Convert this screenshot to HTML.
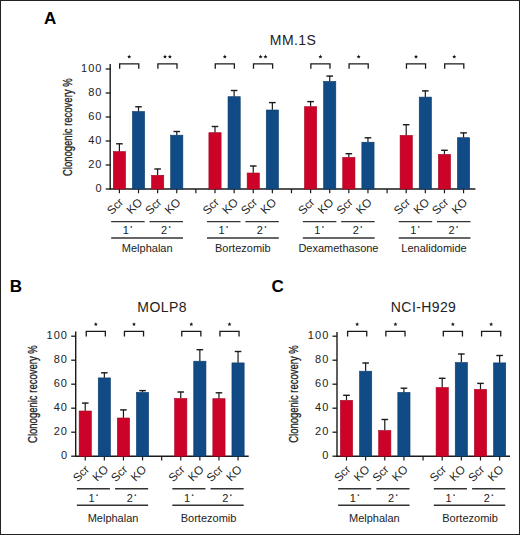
<!DOCTYPE html>
<html><head><meta charset="utf-8"><style>
html,body{margin:0;padding:0;background:#fff;}
.wrap{position:relative;width:520px;height:535px;overflow:hidden;box-sizing:border-box;border:1px solid #222;}
svg{position:absolute;left:-1px;top:-1px;}
text{font-family:"Liberation Sans",sans-serif;fill:#222;}
.t{font-size:11px;}
.st{font-size:10px;}
.deg{font-size:6px;}
.title{font-size:14px;letter-spacing:0.4px;}
.yl{font-size:12.5px;stroke:#222;stroke-width:0.3px;}
.tk{font-size:11px;letter-spacing:1.1px;}
.rl{font-size:11.6px;}
.pl{font-size:17px;font-weight:bold;fill:#000;}
</style></head><body><div class="wrap">
<svg width="520" height="535" viewBox="0 0 520 535">
<text class="pl" x="44" y="24">A</text>
<text class="pl" x="9.8" y="291.8">B</text>
<text class="pl" x="271.5" y="292">C</text>
<line x1="110.2" y1="64" x2="110.2" y2="189.6" stroke="#1a1a1a" stroke-width="1.4"/>
<line x1="105.7" y1="189.0" x2="110.2" y2="189.0" stroke="#1a1a1a" stroke-width="1.3"/>
<text x="102.60" y="192.10" text-anchor="end" class="tk">0</text>
<line x1="105.7" y1="165.0" x2="110.2" y2="165.0" stroke="#1a1a1a" stroke-width="1.3"/>
<text x="102.60" y="168.10" text-anchor="end" class="tk">20</text>
<line x1="105.7" y1="141.0" x2="110.2" y2="141.0" stroke="#1a1a1a" stroke-width="1.3"/>
<text x="102.60" y="144.10" text-anchor="end" class="tk">40</text>
<line x1="105.7" y1="117.0" x2="110.2" y2="117.0" stroke="#1a1a1a" stroke-width="1.3"/>
<text x="102.60" y="120.10" text-anchor="end" class="tk">60</text>
<line x1="105.7" y1="93.0" x2="110.2" y2="93.0" stroke="#1a1a1a" stroke-width="1.3"/>
<text x="102.60" y="96.10" text-anchor="end" class="tk">80</text>
<line x1="105.7" y1="69.0" x2="110.2" y2="69.0" stroke="#1a1a1a" stroke-width="1.3"/>
<text x="102.60" y="72.10" text-anchor="end" class="tk">100</text>
<line x1="109.5" y1="189" x2="475.4" y2="189" stroke="#1a1a1a" stroke-width="1.4"/>
<line x1="119.4" y1="189" x2="119.4" y2="193.3" stroke="#1a1a1a" stroke-width="1.2"/>
<line x1="138.52" y1="189" x2="138.52" y2="193.3" stroke="#1a1a1a" stroke-width="1.2"/>
<line x1="157.64000000000001" y1="189" x2="157.64000000000001" y2="193.3" stroke="#1a1a1a" stroke-width="1.2"/>
<line x1="176.76" y1="189" x2="176.76" y2="193.3" stroke="#1a1a1a" stroke-width="1.2"/>
<line x1="195.88" y1="189" x2="195.88" y2="193.3" stroke="#1a1a1a" stroke-width="1.2"/>
<line x1="215.0" y1="189" x2="215.0" y2="193.3" stroke="#1a1a1a" stroke-width="1.2"/>
<line x1="234.12" y1="189" x2="234.12" y2="193.3" stroke="#1a1a1a" stroke-width="1.2"/>
<line x1="253.24" y1="189" x2="253.24" y2="193.3" stroke="#1a1a1a" stroke-width="1.2"/>
<line x1="272.36" y1="189" x2="272.36" y2="193.3" stroke="#1a1a1a" stroke-width="1.2"/>
<line x1="291.48" y1="189" x2="291.48" y2="193.3" stroke="#1a1a1a" stroke-width="1.2"/>
<line x1="310.6" y1="189" x2="310.6" y2="193.3" stroke="#1a1a1a" stroke-width="1.2"/>
<line x1="329.72" y1="189" x2="329.72" y2="193.3" stroke="#1a1a1a" stroke-width="1.2"/>
<line x1="348.84000000000003" y1="189" x2="348.84000000000003" y2="193.3" stroke="#1a1a1a" stroke-width="1.2"/>
<line x1="367.96000000000004" y1="189" x2="367.96000000000004" y2="193.3" stroke="#1a1a1a" stroke-width="1.2"/>
<line x1="387.08000000000004" y1="189" x2="387.08000000000004" y2="193.3" stroke="#1a1a1a" stroke-width="1.2"/>
<line x1="406.20000000000005" y1="189" x2="406.20000000000005" y2="193.3" stroke="#1a1a1a" stroke-width="1.2"/>
<line x1="425.32000000000005" y1="189" x2="425.32000000000005" y2="193.3" stroke="#1a1a1a" stroke-width="1.2"/>
<line x1="444.44000000000005" y1="189" x2="444.44000000000005" y2="193.3" stroke="#1a1a1a" stroke-width="1.2"/>
<line x1="463.56000000000006" y1="189" x2="463.56000000000006" y2="193.3" stroke="#1a1a1a" stroke-width="1.2"/>
<rect x="113.30" y="151.6" width="12.2" height="37.40" fill="#cd0228" stroke="#a8001e" stroke-width="0.6"/>
<line x1="119.40" y1="151.4" x2="119.40" y2="143.5" stroke="#1a1a1a" stroke-width="1.2"/>
<line x1="116.10" y1="143.8" x2="122.70" y2="143.8" stroke="#1a1a1a" stroke-width="1.4"/>
<rect x="132.42" y="111.5" width="12.2" height="77.50" fill="#104b86" stroke="#0b3b6c" stroke-width="0.6"/>
<line x1="138.52" y1="111.3" x2="138.52" y2="106.5" stroke="#1a1a1a" stroke-width="1.2"/>
<line x1="135.22" y1="106.8" x2="141.82" y2="106.8" stroke="#1a1a1a" stroke-width="1.4"/>
<rect x="151.54" y="175.29999999999998" width="12.2" height="13.70" fill="#cd0228" stroke="#a8001e" stroke-width="0.6"/>
<line x1="157.64" y1="175.1" x2="157.64" y2="168.7" stroke="#1a1a1a" stroke-width="1.2"/>
<line x1="154.34" y1="169.0" x2="160.94" y2="169.0" stroke="#1a1a1a" stroke-width="1.4"/>
<rect x="170.66" y="135.2" width="12.2" height="53.80" fill="#104b86" stroke="#0b3b6c" stroke-width="0.6"/>
<line x1="176.76" y1="135" x2="176.76" y2="131.2" stroke="#1a1a1a" stroke-width="1.2"/>
<line x1="173.46" y1="131.5" x2="180.06" y2="131.5" stroke="#1a1a1a" stroke-width="1.4"/>
<rect x="208.90" y="132.7" width="12.2" height="56.30" fill="#cd0228" stroke="#a8001e" stroke-width="0.6"/>
<line x1="215.00" y1="132.5" x2="215.00" y2="126.2" stroke="#1a1a1a" stroke-width="1.2"/>
<line x1="211.70" y1="126.5" x2="218.30" y2="126.5" stroke="#1a1a1a" stroke-width="1.4"/>
<rect x="228.02" y="96.7" width="12.2" height="92.30" fill="#104b86" stroke="#0b3b6c" stroke-width="0.6"/>
<line x1="234.12" y1="96.5" x2="234.12" y2="90.2" stroke="#1a1a1a" stroke-width="1.2"/>
<line x1="230.82" y1="90.5" x2="237.42" y2="90.5" stroke="#1a1a1a" stroke-width="1.4"/>
<rect x="247.14" y="173.0" width="12.2" height="16.00" fill="#cd0228" stroke="#a8001e" stroke-width="0.6"/>
<line x1="253.24" y1="172.8" x2="253.24" y2="165.7" stroke="#1a1a1a" stroke-width="1.2"/>
<line x1="249.94" y1="166.0" x2="256.54" y2="166.0" stroke="#1a1a1a" stroke-width="1.4"/>
<rect x="266.26" y="110.0" width="12.2" height="79.00" fill="#104b86" stroke="#0b3b6c" stroke-width="0.6"/>
<line x1="272.36" y1="109.8" x2="272.36" y2="102.3" stroke="#1a1a1a" stroke-width="1.2"/>
<line x1="269.06" y1="102.6" x2="275.66" y2="102.6" stroke="#1a1a1a" stroke-width="1.4"/>
<rect x="304.50" y="106.7" width="12.2" height="82.30" fill="#cd0228" stroke="#a8001e" stroke-width="0.6"/>
<line x1="310.60" y1="106.5" x2="310.60" y2="101.3" stroke="#1a1a1a" stroke-width="1.2"/>
<line x1="307.30" y1="101.6" x2="313.90" y2="101.6" stroke="#1a1a1a" stroke-width="1.4"/>
<rect x="323.62" y="81.4" width="12.2" height="107.60" fill="#104b86" stroke="#0b3b6c" stroke-width="0.6"/>
<line x1="329.72" y1="81.2" x2="329.72" y2="75.8" stroke="#1a1a1a" stroke-width="1.2"/>
<line x1="326.42" y1="76.1" x2="333.02" y2="76.1" stroke="#1a1a1a" stroke-width="1.4"/>
<rect x="342.74" y="157.39999999999998" width="12.2" height="31.60" fill="#cd0228" stroke="#a8001e" stroke-width="0.6"/>
<line x1="348.84" y1="157.2" x2="348.84" y2="153.4" stroke="#1a1a1a" stroke-width="1.2"/>
<line x1="345.54" y1="153.70000000000002" x2="352.14" y2="153.70000000000002" stroke="#1a1a1a" stroke-width="1.4"/>
<rect x="361.86" y="142.2" width="12.2" height="46.80" fill="#104b86" stroke="#0b3b6c" stroke-width="0.6"/>
<line x1="367.96" y1="142" x2="367.96" y2="137.5" stroke="#1a1a1a" stroke-width="1.2"/>
<line x1="364.66" y1="137.8" x2="371.26" y2="137.8" stroke="#1a1a1a" stroke-width="1.4"/>
<rect x="400.10" y="135.39999999999998" width="12.2" height="53.60" fill="#cd0228" stroke="#a8001e" stroke-width="0.6"/>
<line x1="406.20" y1="135.2" x2="406.20" y2="124.4" stroke="#1a1a1a" stroke-width="1.2"/>
<line x1="402.90" y1="124.7" x2="409.50" y2="124.7" stroke="#1a1a1a" stroke-width="1.4"/>
<rect x="419.22" y="97.10000000000001" width="12.2" height="91.90" fill="#104b86" stroke="#0b3b6c" stroke-width="0.6"/>
<line x1="425.32" y1="96.9" x2="425.32" y2="90.6" stroke="#1a1a1a" stroke-width="1.2"/>
<line x1="422.02" y1="90.89999999999999" x2="428.62" y2="90.89999999999999" stroke="#1a1a1a" stroke-width="1.4"/>
<rect x="438.34" y="154.39999999999998" width="12.2" height="34.60" fill="#cd0228" stroke="#a8001e" stroke-width="0.6"/>
<line x1="444.44" y1="154.2" x2="444.44" y2="150" stroke="#1a1a1a" stroke-width="1.2"/>
<line x1="441.14" y1="150.3" x2="447.74" y2="150.3" stroke="#1a1a1a" stroke-width="1.4"/>
<rect x="457.46" y="137.7" width="12.2" height="51.30" fill="#104b86" stroke="#0b3b6c" stroke-width="0.6"/>
<line x1="463.56" y1="137.5" x2="463.56" y2="132.6" stroke="#1a1a1a" stroke-width="1.2"/>
<line x1="460.26" y1="132.9" x2="466.86" y2="132.9" stroke="#1a1a1a" stroke-width="1.4"/>
<path d="M119.65 68.8 V63.8 H138.77 V68.8" fill="none" stroke="#1a1a1a" stroke-width="1.3"/>
<polygon points="129.21,54.60 129.80,55.89 131.21,56.05 130.16,57.01 130.44,58.40 129.21,57.70 127.98,58.40 128.26,57.01 127.21,56.05 128.62,55.89" fill="#1a1a1a"/>
<path d="M157.89 68.8 V63.8 H177.01 V68.8" fill="none" stroke="#1a1a1a" stroke-width="1.3"/>
<polygon points="165.00,54.60 165.59,55.89 167.00,56.05 165.95,57.01 166.23,58.40 165.00,57.70 163.77,58.40 164.05,57.01 163.00,56.05 164.41,55.89" fill="#1a1a1a"/>
<polygon points="169.90,54.60 170.49,55.89 171.90,56.05 170.85,57.01 171.13,58.40 169.90,57.70 168.67,58.40 168.95,57.01 167.90,56.05 169.31,55.89" fill="#1a1a1a"/>
<path d="M215.25 68.8 V63.8 H234.37 V68.8" fill="none" stroke="#1a1a1a" stroke-width="1.3"/>
<polygon points="224.81,54.60 225.40,55.89 226.81,56.05 225.76,57.01 226.04,58.40 224.81,57.70 223.58,58.40 223.86,57.01 222.81,56.05 224.22,55.89" fill="#1a1a1a"/>
<path d="M253.49 68.8 V63.8 H272.61 V68.8" fill="none" stroke="#1a1a1a" stroke-width="1.3"/>
<polygon points="260.60,54.60 261.19,55.89 262.60,56.05 261.55,57.01 261.83,58.40 260.60,57.70 259.37,58.40 259.65,57.01 258.60,56.05 260.01,55.89" fill="#1a1a1a"/>
<polygon points="265.50,54.60 266.09,55.89 267.50,56.05 266.45,57.01 266.73,58.40 265.50,57.70 264.27,58.40 264.55,57.01 263.50,56.05 264.91,55.89" fill="#1a1a1a"/>
<path d="M310.85 68.8 V63.8 H329.97 V68.8" fill="none" stroke="#1a1a1a" stroke-width="1.3"/>
<polygon points="320.41,54.60 321.00,55.89 322.41,56.05 321.36,57.01 321.64,58.40 320.41,57.70 319.18,58.40 319.46,57.01 318.41,56.05 319.82,55.89" fill="#1a1a1a"/>
<path d="M349.09 68.8 V63.8 H368.21 V68.8" fill="none" stroke="#1a1a1a" stroke-width="1.3"/>
<polygon points="358.65,54.60 359.24,55.89 360.65,56.05 359.60,57.01 359.88,58.40 358.65,57.70 357.42,58.40 357.70,57.01 356.65,56.05 358.06,55.89" fill="#1a1a1a"/>
<path d="M406.45 68.8 V63.8 H425.57 V68.8" fill="none" stroke="#1a1a1a" stroke-width="1.3"/>
<polygon points="416.01,54.60 416.60,55.89 418.01,56.05 416.96,57.01 417.24,58.40 416.01,57.70 414.78,58.40 415.06,57.01 414.01,56.05 415.42,55.89" fill="#1a1a1a"/>
<path d="M444.69 68.8 V63.8 H463.81 V68.8" fill="none" stroke="#1a1a1a" stroke-width="1.3"/>
<polygon points="454.25,54.60 454.84,55.89 456.25,56.05 455.20,57.01 455.48,58.40 454.25,57.70 453.02,58.40 453.30,57.01 452.25,56.05 453.66,55.89" fill="#1a1a1a"/>
<text class="rl" text-anchor="end" transform="translate(124.10,203.0) rotate(-45)">Scr</text>
<text class="rl" text-anchor="end" transform="translate(143.22,203.0) rotate(-45)">KO</text>
<line x1="111.20" y1="221.6" x2="144.66" y2="221.6" stroke="#333" stroke-width="1.4"/>
<text class="t" text-anchor="middle" x="125.71" y="234">1</text>
<circle cx="131.31" cy="227" r="0.9" fill="#555"/>
<text class="rl" text-anchor="end" transform="translate(162.34,203.0) rotate(-45)">Scr</text>
<text class="rl" text-anchor="end" transform="translate(181.46,203.0) rotate(-45)">KO</text>
<line x1="149.53" y1="221.6" x2="183.00" y2="221.6" stroke="#333" stroke-width="1.4"/>
<text class="t" text-anchor="middle" x="164.04" y="234">2</text>
<circle cx="169.64" cy="227" r="0.9" fill="#555"/>
<line x1="111.20" y1="238" x2="183.00" y2="238" stroke="#333" stroke-width="1.4"/>
<text class="t" text-anchor="middle" x="147.23" y="252.0">Melphalan</text>
<text class="rl" text-anchor="end" transform="translate(219.70,203.0) rotate(-45)">Scr</text>
<text class="rl" text-anchor="end" transform="translate(238.82,203.0) rotate(-45)">KO</text>
<line x1="207.03" y1="221.6" x2="240.49" y2="221.6" stroke="#333" stroke-width="1.4"/>
<text class="t" text-anchor="middle" x="221.53" y="234">1</text>
<circle cx="227.13" cy="227" r="0.9" fill="#555"/>
<text class="rl" text-anchor="end" transform="translate(257.94,203.0) rotate(-45)">Scr</text>
<text class="rl" text-anchor="end" transform="translate(277.06,203.0) rotate(-45)">KO</text>
<line x1="245.36" y1="221.6" x2="278.82" y2="221.6" stroke="#333" stroke-width="1.4"/>
<text class="t" text-anchor="middle" x="259.87" y="234">2</text>
<circle cx="265.47" cy="227" r="0.9" fill="#555"/>
<line x1="207.03" y1="238" x2="278.82" y2="238" stroke="#333" stroke-width="1.4"/>
<text class="t" text-anchor="middle" x="242.83" y="252.0">Bortezomib</text>
<text class="rl" text-anchor="end" transform="translate(315.30,203.0) rotate(-45)">Scr</text>
<text class="rl" text-anchor="end" transform="translate(334.42,203.0) rotate(-45)">KO</text>
<line x1="302.85" y1="221.6" x2="336.32" y2="221.6" stroke="#333" stroke-width="1.4"/>
<text class="t" text-anchor="middle" x="317.36" y="234">1</text>
<circle cx="322.96" cy="227" r="0.9" fill="#555"/>
<text class="rl" text-anchor="end" transform="translate(353.54,203.0) rotate(-45)">Scr</text>
<text class="rl" text-anchor="end" transform="translate(372.66,203.0) rotate(-45)">KO</text>
<line x1="341.18" y1="221.6" x2="374.64" y2="221.6" stroke="#333" stroke-width="1.4"/>
<text class="t" text-anchor="middle" x="355.69" y="234">2</text>
<circle cx="361.29" cy="227" r="0.9" fill="#555"/>
<line x1="302.85" y1="238" x2="374.64" y2="238" stroke="#333" stroke-width="1.4"/>
<text class="t" text-anchor="middle" x="338.43" y="252.0">Dexamethasone</text>
<text class="rl" text-anchor="end" transform="translate(410.90,203.0) rotate(-45)">Scr</text>
<text class="rl" text-anchor="end" transform="translate(430.02,203.0) rotate(-45)">KO</text>
<line x1="398.68" y1="221.6" x2="432.14" y2="221.6" stroke="#333" stroke-width="1.4"/>
<text class="t" text-anchor="middle" x="413.19" y="234">1</text>
<circle cx="418.79" cy="227" r="0.9" fill="#555"/>
<text class="rl" text-anchor="end" transform="translate(449.14,203.0) rotate(-45)">Scr</text>
<text class="rl" text-anchor="end" transform="translate(468.26,203.0) rotate(-45)">KO</text>
<line x1="437.01" y1="221.6" x2="470.47" y2="221.6" stroke="#333" stroke-width="1.4"/>
<text class="t" text-anchor="middle" x="451.52" y="234">2</text>
<circle cx="457.12" cy="227" r="0.9" fill="#555"/>
<line x1="398.68" y1="238" x2="470.47" y2="238" stroke="#333" stroke-width="1.4"/>
<text class="t" text-anchor="middle" x="434.03" y="252.0">Lenalidomide</text>
<text class="title" text-anchor="middle" x="293.0" y="45.2">MM.1S</text>
<text class="yl" text-anchor="middle" transform="translate(71.7,127.2) rotate(-90) scale(0.76,1)">Clonogenic recovery %</text>
<line x1="75.7" y1="331.5" x2="75.7" y2="456.8" stroke="#1a1a1a" stroke-width="1.4"/>
<line x1="71.2" y1="456.2" x2="75.7" y2="456.2" stroke="#1a1a1a" stroke-width="1.3"/>
<text x="68.10" y="459.30" text-anchor="end" class="tk">0</text>
<line x1="71.2" y1="432.2" x2="75.7" y2="432.2" stroke="#1a1a1a" stroke-width="1.3"/>
<text x="68.10" y="435.30" text-anchor="end" class="tk">20</text>
<line x1="71.2" y1="408.2" x2="75.7" y2="408.2" stroke="#1a1a1a" stroke-width="1.3"/>
<text x="68.10" y="411.30" text-anchor="end" class="tk">40</text>
<line x1="71.2" y1="384.2" x2="75.7" y2="384.2" stroke="#1a1a1a" stroke-width="1.3"/>
<text x="68.10" y="387.30" text-anchor="end" class="tk">60</text>
<line x1="71.2" y1="360.2" x2="75.7" y2="360.2" stroke="#1a1a1a" stroke-width="1.3"/>
<text x="68.10" y="363.30" text-anchor="end" class="tk">80</text>
<line x1="71.2" y1="336.2" x2="75.7" y2="336.2" stroke="#1a1a1a" stroke-width="1.3"/>
<text x="68.10" y="339.30" text-anchor="end" class="tk">100</text>
<line x1="75.0" y1="456.2" x2="248.7" y2="456.2" stroke="#1a1a1a" stroke-width="1.4"/>
<line x1="85.25" y1="456.2" x2="85.25" y2="460.5" stroke="#1a1a1a" stroke-width="1.2"/>
<line x1="104.35" y1="456.2" x2="104.35" y2="460.5" stroke="#1a1a1a" stroke-width="1.2"/>
<line x1="123.45" y1="456.2" x2="123.45" y2="460.5" stroke="#1a1a1a" stroke-width="1.2"/>
<line x1="142.55" y1="456.2" x2="142.55" y2="460.5" stroke="#1a1a1a" stroke-width="1.2"/>
<line x1="161.65" y1="456.2" x2="161.65" y2="460.5" stroke="#1a1a1a" stroke-width="1.2"/>
<line x1="180.75" y1="456.2" x2="180.75" y2="460.5" stroke="#1a1a1a" stroke-width="1.2"/>
<line x1="199.85000000000002" y1="456.2" x2="199.85000000000002" y2="460.5" stroke="#1a1a1a" stroke-width="1.2"/>
<line x1="218.95000000000002" y1="456.2" x2="218.95000000000002" y2="460.5" stroke="#1a1a1a" stroke-width="1.2"/>
<line x1="238.05" y1="456.2" x2="238.05" y2="460.5" stroke="#1a1a1a" stroke-width="1.2"/>
<rect x="79.15" y="411.0" width="12.2" height="45.20" fill="#cd0228" stroke="#a8001e" stroke-width="0.6"/>
<line x1="85.25" y1="410.8" x2="85.25" y2="402.8" stroke="#1a1a1a" stroke-width="1.2"/>
<line x1="81.95" y1="403.1" x2="88.55" y2="403.1" stroke="#1a1a1a" stroke-width="1.4"/>
<rect x="98.25" y="377.9" width="12.2" height="78.30" fill="#104b86" stroke="#0b3b6c" stroke-width="0.6"/>
<line x1="104.35" y1="377.7" x2="104.35" y2="372.5" stroke="#1a1a1a" stroke-width="1.2"/>
<line x1="101.05" y1="372.8" x2="107.65" y2="372.8" stroke="#1a1a1a" stroke-width="1.4"/>
<rect x="117.35" y="418.0" width="12.2" height="38.20" fill="#cd0228" stroke="#a8001e" stroke-width="0.6"/>
<line x1="123.45" y1="417.8" x2="123.45" y2="409.6" stroke="#1a1a1a" stroke-width="1.2"/>
<line x1="120.15" y1="409.90000000000003" x2="126.75" y2="409.90000000000003" stroke="#1a1a1a" stroke-width="1.4"/>
<rect x="136.45" y="392.4" width="12.2" height="63.80" fill="#104b86" stroke="#0b3b6c" stroke-width="0.6"/>
<line x1="142.55" y1="392.2" x2="142.55" y2="390.3" stroke="#1a1a1a" stroke-width="1.2"/>
<line x1="139.25" y1="390.6" x2="145.85" y2="390.6" stroke="#1a1a1a" stroke-width="1.4"/>
<rect x="174.65" y="398.5" width="12.2" height="57.70" fill="#cd0228" stroke="#a8001e" stroke-width="0.6"/>
<line x1="180.75" y1="398.3" x2="180.75" y2="391.7" stroke="#1a1a1a" stroke-width="1.2"/>
<line x1="177.45" y1="392.0" x2="184.05" y2="392.0" stroke="#1a1a1a" stroke-width="1.4"/>
<rect x="193.75" y="361.2" width="12.2" height="95.00" fill="#104b86" stroke="#0b3b6c" stroke-width="0.6"/>
<line x1="199.85" y1="361" x2="199.85" y2="349.4" stroke="#1a1a1a" stroke-width="1.2"/>
<line x1="196.55" y1="349.7" x2="203.15" y2="349.7" stroke="#1a1a1a" stroke-width="1.4"/>
<rect x="212.85" y="398.7" width="12.2" height="57.50" fill="#cd0228" stroke="#a8001e" stroke-width="0.6"/>
<line x1="218.95" y1="398.5" x2="218.95" y2="392.5" stroke="#1a1a1a" stroke-width="1.2"/>
<line x1="215.65" y1="392.8" x2="222.25" y2="392.8" stroke="#1a1a1a" stroke-width="1.4"/>
<rect x="231.95" y="362.9" width="12.2" height="93.30" fill="#104b86" stroke="#0b3b6c" stroke-width="0.6"/>
<line x1="238.05" y1="362.7" x2="238.05" y2="351.2" stroke="#1a1a1a" stroke-width="1.2"/>
<line x1="234.75" y1="351.5" x2="241.35" y2="351.5" stroke="#1a1a1a" stroke-width="1.4"/>
<path d="M86.25 336.4 V331.4 H105.35 V336.4" fill="none" stroke="#1a1a1a" stroke-width="1.3"/>
<polygon points="95.80,322.20 96.39,323.49 97.80,323.65 96.75,324.61 97.03,326.00 95.80,325.30 94.57,326.00 94.85,324.61 93.80,323.65 95.21,323.49" fill="#1a1a1a"/>
<path d="M124.45 336.4 V331.4 H143.55 V336.4" fill="none" stroke="#1a1a1a" stroke-width="1.3"/>
<polygon points="134.00,322.20 134.59,323.49 136.00,323.65 134.95,324.61 135.23,326.00 134.00,325.30 132.77,326.00 133.05,324.61 132.00,323.65 133.41,323.49" fill="#1a1a1a"/>
<path d="M181.75 336.4 V331.4 H200.85 V336.4" fill="none" stroke="#1a1a1a" stroke-width="1.3"/>
<polygon points="191.30,322.20 191.89,323.49 193.30,323.65 192.25,324.61 192.53,326.00 191.30,325.30 190.07,326.00 190.35,324.61 189.30,323.65 190.71,323.49" fill="#1a1a1a"/>
<path d="M219.95 336.4 V331.4 H239.05 V336.4" fill="none" stroke="#1a1a1a" stroke-width="1.3"/>
<polygon points="229.50,322.20 230.09,323.49 231.50,323.65 230.45,324.61 230.73,326.00 229.50,325.30 228.27,326.00 228.55,324.61 227.50,323.65 228.91,323.49" fill="#1a1a1a"/>
<text class="rl" text-anchor="end" transform="translate(89.95,470.2) rotate(-45)">Scr</text>
<text class="rl" text-anchor="end" transform="translate(109.05,470.2) rotate(-45)">KO</text>
<line x1="76.85" y1="488.8" x2="109.95" y2="488.8" stroke="#333" stroke-width="1.4"/>
<text class="t" text-anchor="middle" x="91.55" y="502.2">1</text>
<circle cx="97.15" cy="495.2" r="0.9" fill="#555"/>
<text class="rl" text-anchor="end" transform="translate(128.15,470.2) rotate(-45)">Scr</text>
<text class="rl" text-anchor="end" transform="translate(147.25,470.2) rotate(-45)">KO</text>
<line x1="115.05" y1="488.8" x2="148.15" y2="488.8" stroke="#333" stroke-width="1.4"/>
<text class="t" text-anchor="middle" x="129.75" y="502.2">2</text>
<circle cx="135.35" cy="495.2" r="0.9" fill="#555"/>
<line x1="76.85" y1="505.2" x2="148.15" y2="505.2" stroke="#333" stroke-width="1.4"/>
<text class="t" text-anchor="middle" x="113.05" y="522.1">Melphalan</text>
<text class="rl" text-anchor="end" transform="translate(185.45,470.2) rotate(-45)">Scr</text>
<text class="rl" text-anchor="end" transform="translate(204.55,470.2) rotate(-45)">KO</text>
<line x1="172.35" y1="488.8" x2="205.45" y2="488.8" stroke="#333" stroke-width="1.4"/>
<text class="t" text-anchor="middle" x="187.05" y="502.2">1</text>
<circle cx="192.65" cy="495.2" r="0.9" fill="#555"/>
<text class="rl" text-anchor="end" transform="translate(223.65,470.2) rotate(-45)">Scr</text>
<text class="rl" text-anchor="end" transform="translate(242.75,470.2) rotate(-45)">KO</text>
<line x1="210.55" y1="488.8" x2="243.65" y2="488.8" stroke="#333" stroke-width="1.4"/>
<text class="t" text-anchor="middle" x="225.25" y="502.2">2</text>
<circle cx="230.85" cy="495.2" r="0.9" fill="#555"/>
<line x1="172.35" y1="505.2" x2="243.65" y2="505.2" stroke="#333" stroke-width="1.4"/>
<text class="t" text-anchor="middle" x="208.55" y="522.1">Bortezomib</text>
<text class="title" text-anchor="middle" x="162.1" y="312.2">MOLP8</text>
<text class="yl" text-anchor="middle" transform="translate(37.3,394.1) rotate(-90) scale(0.76,1)">Clonogenic recovery %</text>
<line x1="337.0" y1="331.9" x2="337.0" y2="456.8" stroke="#1a1a1a" stroke-width="1.4"/>
<line x1="332.5" y1="456.2" x2="337.0" y2="456.2" stroke="#1a1a1a" stroke-width="1.3"/>
<text x="329.40" y="459.30" text-anchor="end" class="tk">0</text>
<line x1="332.5" y1="432.2" x2="337.0" y2="432.2" stroke="#1a1a1a" stroke-width="1.3"/>
<text x="329.40" y="435.30" text-anchor="end" class="tk">20</text>
<line x1="332.5" y1="408.2" x2="337.0" y2="408.2" stroke="#1a1a1a" stroke-width="1.3"/>
<text x="329.40" y="411.30" text-anchor="end" class="tk">40</text>
<line x1="332.5" y1="384.2" x2="337.0" y2="384.2" stroke="#1a1a1a" stroke-width="1.3"/>
<text x="329.40" y="387.30" text-anchor="end" class="tk">60</text>
<line x1="332.5" y1="360.2" x2="337.0" y2="360.2" stroke="#1a1a1a" stroke-width="1.3"/>
<text x="329.40" y="363.30" text-anchor="end" class="tk">80</text>
<line x1="332.5" y1="336.2" x2="337.0" y2="336.2" stroke="#1a1a1a" stroke-width="1.3"/>
<text x="329.40" y="339.30" text-anchor="end" class="tk">100</text>
<line x1="336.3" y1="456.2" x2="510" y2="456.2" stroke="#1a1a1a" stroke-width="1.4"/>
<line x1="346.5" y1="456.2" x2="346.5" y2="460.5" stroke="#1a1a1a" stroke-width="1.2"/>
<line x1="365.64" y1="456.2" x2="365.64" y2="460.5" stroke="#1a1a1a" stroke-width="1.2"/>
<line x1="384.78" y1="456.2" x2="384.78" y2="460.5" stroke="#1a1a1a" stroke-width="1.2"/>
<line x1="403.92" y1="456.2" x2="403.92" y2="460.5" stroke="#1a1a1a" stroke-width="1.2"/>
<line x1="423.06" y1="456.2" x2="423.06" y2="460.5" stroke="#1a1a1a" stroke-width="1.2"/>
<line x1="442.2" y1="456.2" x2="442.2" y2="460.5" stroke="#1a1a1a" stroke-width="1.2"/>
<line x1="461.34000000000003" y1="456.2" x2="461.34000000000003" y2="460.5" stroke="#1a1a1a" stroke-width="1.2"/>
<line x1="480.48" y1="456.2" x2="480.48" y2="460.5" stroke="#1a1a1a" stroke-width="1.2"/>
<line x1="499.62" y1="456.2" x2="499.62" y2="460.5" stroke="#1a1a1a" stroke-width="1.2"/>
<rect x="340.40" y="400.4" width="12.2" height="55.80" fill="#cd0228" stroke="#a8001e" stroke-width="0.6"/>
<line x1="346.50" y1="400.2" x2="346.50" y2="395" stroke="#1a1a1a" stroke-width="1.2"/>
<line x1="343.20" y1="395.3" x2="349.80" y2="395.3" stroke="#1a1a1a" stroke-width="1.4"/>
<rect x="359.54" y="371.2" width="12.2" height="85.00" fill="#104b86" stroke="#0b3b6c" stroke-width="0.6"/>
<line x1="365.64" y1="371" x2="365.64" y2="362.7" stroke="#1a1a1a" stroke-width="1.2"/>
<line x1="362.34" y1="363.0" x2="368.94" y2="363.0" stroke="#1a1a1a" stroke-width="1.4"/>
<rect x="378.68" y="430.5" width="12.2" height="25.70" fill="#cd0228" stroke="#a8001e" stroke-width="0.6"/>
<line x1="384.78" y1="430.3" x2="384.78" y2="419.2" stroke="#1a1a1a" stroke-width="1.2"/>
<line x1="381.48" y1="419.5" x2="388.08" y2="419.5" stroke="#1a1a1a" stroke-width="1.4"/>
<rect x="397.82" y="392.4" width="12.2" height="63.80" fill="#104b86" stroke="#0b3b6c" stroke-width="0.6"/>
<line x1="403.92" y1="392.2" x2="403.92" y2="387.9" stroke="#1a1a1a" stroke-width="1.2"/>
<line x1="400.62" y1="388.2" x2="407.22" y2="388.2" stroke="#1a1a1a" stroke-width="1.4"/>
<rect x="436.10" y="387.5" width="12.2" height="68.70" fill="#cd0228" stroke="#a8001e" stroke-width="0.6"/>
<line x1="442.20" y1="387.3" x2="442.20" y2="378" stroke="#1a1a1a" stroke-width="1.2"/>
<line x1="438.90" y1="378.3" x2="445.50" y2="378.3" stroke="#1a1a1a" stroke-width="1.4"/>
<rect x="455.24" y="362.5" width="12.2" height="93.70" fill="#104b86" stroke="#0b3b6c" stroke-width="0.6"/>
<line x1="461.34" y1="362.3" x2="461.34" y2="353.7" stroke="#1a1a1a" stroke-width="1.2"/>
<line x1="458.04" y1="354.0" x2="464.64" y2="354.0" stroke="#1a1a1a" stroke-width="1.4"/>
<rect x="474.38" y="389.4" width="12.2" height="66.80" fill="#cd0228" stroke="#a8001e" stroke-width="0.6"/>
<line x1="480.48" y1="389.2" x2="480.48" y2="383.1" stroke="#1a1a1a" stroke-width="1.2"/>
<line x1="477.18" y1="383.40000000000003" x2="483.78" y2="383.40000000000003" stroke="#1a1a1a" stroke-width="1.4"/>
<rect x="493.52" y="362.9" width="12.2" height="93.30" fill="#104b86" stroke="#0b3b6c" stroke-width="0.6"/>
<line x1="499.62" y1="362.7" x2="499.62" y2="355.2" stroke="#1a1a1a" stroke-width="1.2"/>
<line x1="496.32" y1="355.5" x2="502.92" y2="355.5" stroke="#1a1a1a" stroke-width="1.4"/>
<path d="M347.60 336.4 V331.4 H366.74 V336.4" fill="none" stroke="#1a1a1a" stroke-width="1.3"/>
<polygon points="357.17,322.20 357.76,323.49 359.17,323.65 358.12,324.61 358.40,326.00 357.17,325.30 355.94,326.00 356.22,324.61 355.17,323.65 356.58,323.49" fill="#1a1a1a"/>
<path d="M385.88 336.4 V331.4 H405.02 V336.4" fill="none" stroke="#1a1a1a" stroke-width="1.3"/>
<polygon points="395.45,322.20 396.04,323.49 397.45,323.65 396.40,324.61 396.68,326.00 395.45,325.30 394.22,326.00 394.50,324.61 393.45,323.65 394.86,323.49" fill="#1a1a1a"/>
<path d="M443.30 336.4 V331.4 H462.44 V336.4" fill="none" stroke="#1a1a1a" stroke-width="1.3"/>
<polygon points="452.87,322.20 453.46,323.49 454.87,323.65 453.82,324.61 454.10,326.00 452.87,325.30 451.64,326.00 451.92,324.61 450.87,323.65 452.28,323.49" fill="#1a1a1a"/>
<path d="M481.58 336.4 V331.4 H500.72 V336.4" fill="none" stroke="#1a1a1a" stroke-width="1.3"/>
<polygon points="491.15,322.20 491.74,323.49 493.15,323.65 492.10,324.61 492.38,326.00 491.15,325.30 489.92,326.00 490.20,324.61 489.15,323.65 490.56,323.49" fill="#1a1a1a"/>
<text class="rl" text-anchor="end" transform="translate(351.20,470.2) rotate(-45)">Scr</text>
<text class="rl" text-anchor="end" transform="translate(370.34,470.2) rotate(-45)">KO</text>
<line x1="338.10" y1="488.8" x2="371.24" y2="488.8" stroke="#333" stroke-width="1.4"/>
<text class="t" text-anchor="middle" x="352.82" y="502.2">1</text>
<circle cx="358.42" cy="495.2" r="0.9" fill="#555"/>
<text class="rl" text-anchor="end" transform="translate(389.48,470.2) rotate(-45)">Scr</text>
<text class="rl" text-anchor="end" transform="translate(408.62,470.2) rotate(-45)">KO</text>
<line x1="376.38" y1="488.8" x2="409.52" y2="488.8" stroke="#333" stroke-width="1.4"/>
<text class="t" text-anchor="middle" x="391.10" y="502.2">2</text>
<circle cx="396.70" cy="495.2" r="0.9" fill="#555"/>
<line x1="338.10" y1="505.2" x2="409.52" y2="505.2" stroke="#333" stroke-width="1.4"/>
<text class="t" text-anchor="middle" x="374.36" y="522.1">Melphalan</text>
<text class="rl" text-anchor="end" transform="translate(446.90,470.2) rotate(-45)">Scr</text>
<text class="rl" text-anchor="end" transform="translate(466.04,470.2) rotate(-45)">KO</text>
<line x1="433.80" y1="488.8" x2="466.94" y2="488.8" stroke="#333" stroke-width="1.4"/>
<text class="t" text-anchor="middle" x="448.52" y="502.2">1</text>
<circle cx="454.12" cy="495.2" r="0.9" fill="#555"/>
<text class="rl" text-anchor="end" transform="translate(485.18,470.2) rotate(-45)">Scr</text>
<text class="rl" text-anchor="end" transform="translate(504.32,470.2) rotate(-45)">KO</text>
<line x1="472.08" y1="488.8" x2="505.22" y2="488.8" stroke="#333" stroke-width="1.4"/>
<text class="t" text-anchor="middle" x="486.80" y="502.2">2</text>
<circle cx="492.40" cy="495.2" r="0.9" fill="#555"/>
<line x1="433.80" y1="505.2" x2="505.22" y2="505.2" stroke="#333" stroke-width="1.4"/>
<text class="t" text-anchor="middle" x="470.06" y="522.1">Bortezomib</text>
<text class="title" text-anchor="middle" x="423.6" y="312.2">NCI-H929</text>
<text class="yl" text-anchor="middle" transform="translate(298.4,394.0) rotate(-90) scale(0.76,1)">Clonogenic recovery %</text>
</svg></div></body></html>
